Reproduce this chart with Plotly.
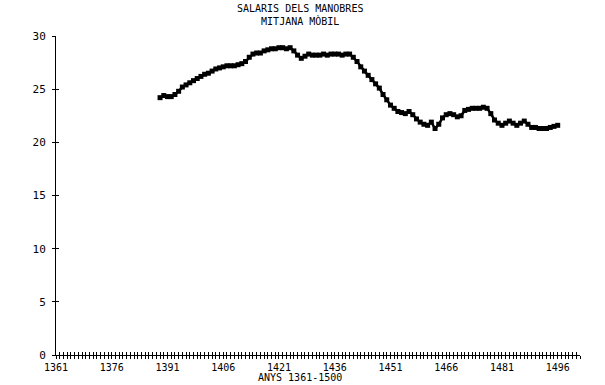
import plotly.graph_objects as go

years = list(range(1389, 1497))
salaris = [
    24.2, 24.4, 24.3, 24.3, 24.5, 24.8, 25.2, 25.4, 25.6, 25.8,   # 1389-1398
    26.0, 26.2, 26.4, 26.5, 26.7, 26.9, 27.0, 27.1, 27.2, 27.2,   # 1399-1408
    27.2, 27.3, 27.4, 27.6, 28.0, 28.3, 28.4, 28.4, 28.6, 28.7,   # 1409-1418
    28.8, 28.8, 28.9, 28.9, 28.8, 28.9, 28.6, 28.2, 27.9, 28.1,   # 1419-1428
    28.3, 28.2, 28.2, 28.2, 28.3, 28.2, 28.3, 28.3, 28.3, 28.2,   # 1429-1438
    28.3, 28.3, 28.0, 27.6, 27.1, 26.7, 26.3, 25.9, 25.5, 25.1,   # 1439-1448
    24.5, 24.0, 23.5, 23.2, 22.9, 22.8, 22.7, 22.9, 22.6, 22.2,   # 1449-1458
    21.9, 21.7, 21.6, 21.9, 21.3, 21.7, 22.3, 22.6, 22.7, 22.6,   # 1459-1468
    22.4, 22.5, 23.0, 23.1, 23.2, 23.2, 23.2, 23.3, 23.2, 22.7,   # 1469-1478
    22.1, 21.8, 21.6, 21.8, 22.0, 21.8, 21.6, 21.8, 22.0, 21.7,   # 1479-1488
    21.4, 21.4, 21.3, 21.3, 21.3, 21.4, 21.5, 21.6,               # 1489-1496
]
x_ticks = [1361, 1376, 1391, 1406, 1421, 1436, 1451, 1466, 1481, 1496]
y_ticks = [0, 5, 10, 15, 20, 25, 30]

FONT = "DejaVu Sans Mono"
W, H = 605, 385
ml, mr, mt, mb = 56, 24.5, 36, 30
pw = W - ml - mr
ph = H - mt - mb
xc = (300 - ml) / pw

fig = go.Figure()
fig.add_trace(go.Scatter(
    x=years, y=salaris, mode="lines+markers",
    line=dict(color="black", width=2.5),
    marker=dict(color="black", size=5, symbol="square"),
    showlegend=False, cliponaxis=False,
))
fig.add_trace(go.Scatter(x=[None], y=[None], xaxis="x2", yaxis="y2", showlegend=False))

axis_common = dict(showgrid=False, zeroline=False, linecolor="black", linewidth=1)
fig.update_layout(
    width=W, height=H,
    margin=dict(l=ml, r=mr, t=mt, b=mb),
    paper_bgcolor="white", plot_bgcolor="white",
    font=dict(family=FONT, color="black", size=10),
    xaxis=dict(
        range=[1361, 1502], tickvals=x_ticks, showline=True,
        ticks="outside", ticklen=3, tickcolor="black", ticklabelstandoff=0,
        minor=dict(dtick=1, tick0=1361, ticks="outside", ticklen=3, tickcolor="black"),
        tickfont=dict(family=FONT, size=10), **axis_common,
    ),
    yaxis=dict(
        range=[0, 30], tickvals=y_ticks, showline=True,
        ticks="outside", ticklen=3, tickcolor="black", ticklabelstandoff=4,
        tickfont=dict(family=FONT, size=11), **axis_common,
    ),
    xaxis2=dict(
        range=[1361, 1502], overlaying="x", anchor="y", side="bottom",
        tickvals=x_ticks, showticklabels=False, ticks="inside", ticklen=3,
        tickcolor="black",
        minor=dict(dtick=1, tick0=1361, ticks="inside", ticklen=3, tickcolor="black"),
        showgrid=False, zeroline=False, showline=False,
    ),
    yaxis2=dict(
        range=[0, 30], overlaying="y", anchor="x", side="left",
        tickvals=y_ticks, showticklabels=False, ticks="inside", ticklen=3,
        tickcolor="black", showgrid=False, zeroline=False, showline=False,
    ),
    annotations=[
        dict(text="SALARIS DELS MANOBRES<br>MITJANA MÒBIL", x=xc, xref="paper",
             xanchor="center", y=1 + (mt - 15) / ph, yref="paper", yanchor="middle",
             showarrow=False, font=dict(family=FONT, size=10)),
        dict(text="ANYS 1361-1500", x=xc, xref="paper", xanchor="center",
             y=0, yref="paper", yanchor="middle", yshift=-22,
             showarrow=False, font=dict(family=FONT, size=10)),
    ],
)

fig.write_html("out.html")
